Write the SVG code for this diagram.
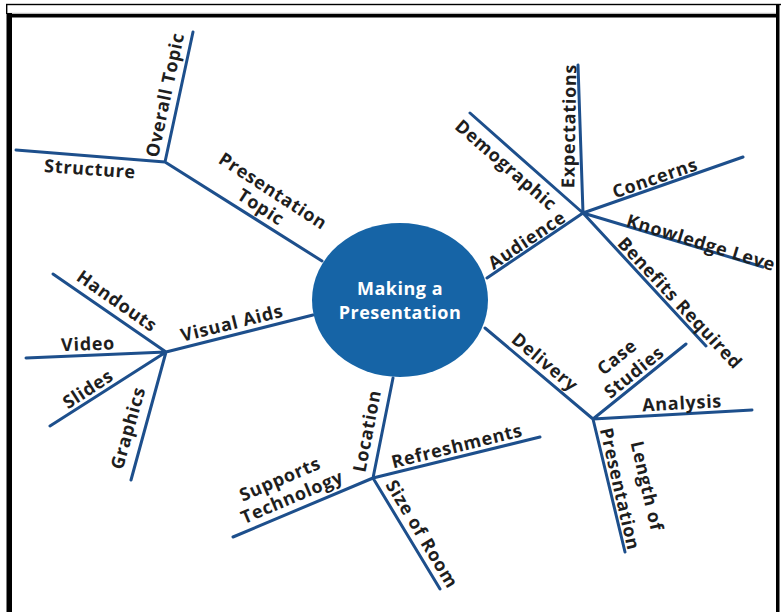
<svg xmlns="http://www.w3.org/2000/svg" width="781" height="612" viewBox="0 0 781 612">
<defs>
<style>
.c{stroke:#1d4f8c;stroke-width:3;fill:none;stroke-linecap:round}
.t{font-family:"Open Sans","Noto Sans","Liberation Sans",sans-serif;font-weight:700;font-size:18px;letter-spacing:0.7px;fill:#1e1e1e;text-anchor:middle}
.m{font-family:"Open Sans","Noto Sans","Liberation Sans",sans-serif;font-weight:700;font-size:18px;letter-spacing:0.5px;fill:#fff;text-anchor:middle}
</style>
<clipPath id="clip"><rect x="0" y="0" width="776" height="612"/></clipPath>
</defs>
<rect width="781" height="612" fill="#fff"/>
<g id="frame">
<rect x="6" y="3.8" width="775" height="1.4" fill="#000"/>
<rect x="6" y="4" width="1.4" height="10" fill="#000"/>
<rect x="7" y="12.8" width="769" height="1.4" fill="#bbb"/>
<rect x="6.5" y="13" width="5.5" height="599" fill="#000"/>
<rect x="12" y="14" width="764" height="3.5" fill="#000"/>
<rect x="776" y="4" width="3.5" height="608" fill="#000"/>
</g>
<g clip-path="url(#clip)">
<g id="connectors">
<path class="c" d="M165 162L322 261M165 162L193 32M165 162L16 150"/>
<path class="c" d="M166 352L313 315M166 352L53 274M166 352L26 358M166 352L50 426M166 352L131 480"/>
<path class="c" d="M373 478L393 378M373 478L233 537M373 478L540 437M373 478L440 589"/>
<path class="c" d="M593 419L485 328M593 419L686 344M593 419L752 410M593 419L625 552"/>
<path class="c" d="M583 213L487 278M583 213L470 113M583 213L578 65M583 213L743 157M583 213L763 267M583 213L706 346"/>
</g>
<g id="center">
<ellipse cx="400" cy="300" rx="88" ry="77" fill="#1664a6"/>
<text class="m" x="400" y="295">Making a</text>
<text class="m" x="400" y="319">Presentation</text>
</g>
<g id="presentation-topic"><text class="t" transform="translate(273,191) rotate(33)" dy="0.35em">Presentation</text><text class="t" transform="translate(261,207) rotate(33)" dy="0.35em">Topic</text></g>
<g id="overall-topic"><text class="t" transform="translate(165,95) rotate(-78)" dy="0.35em">Overall Topic</text></g>
<g id="structure"><text class="t" transform="translate(90,169) rotate(4)" dy="0.35em">Structure</text></g>
<g id="visual-aids"><text class="t" transform="translate(232,323) rotate(-14)" dy="0.35em">Visual Aids</text></g>
<g id="handouts"><text class="t" transform="translate(117,301) rotate(35)" dy="0.35em">Handouts</text></g>
<g id="video"><text class="t" transform="translate(88,344) rotate(-2)" dy="0.35em">Video</text></g>
<g id="slides"><text class="t" transform="translate(88,389) rotate(-33)" dy="0.35em">Slides</text></g>
<g id="graphics"><text class="t" transform="translate(128,428) rotate(-74)" dy="0.35em">Graphics</text></g>
<g id="location"><text class="t" transform="translate(367,431) rotate(-79)" dy="0.35em">Location</text></g>
<g id="refreshments"><text class="t" transform="translate(457,446) rotate(-14)" dy="0.35em">Refreshments</text></g>
<g id="supports-technology"><text class="t" transform="translate(280,479) rotate(-23)" dy="0.35em">Supports</text><text class="t" transform="translate(292,497) rotate(-23)" dy="0.35em">Technology</text></g>
<g id="size-of-room"><text class="t" transform="translate(422,534) rotate(59)" dy="0.35em">Size of Room</text></g>
<g id="delivery"><text class="t" transform="translate(545,362) rotate(40)" dy="0.35em">Delivery</text></g>
<g id="case-studies"><text class="t" transform="translate(617,357) rotate(-39)" dy="0.35em">Case</text><text class="t" transform="translate(634,372) rotate(-39)" dy="0.35em">Studies</text></g>
<g id="analysis"><text class="t" transform="translate(682,403) rotate(-3)" dy="0.35em">Analysis</text></g>
<g id="length-of-presentation"><text class="t" transform="translate(647,486) rotate(77)" dy="0.35em">Length of</text><text class="t" transform="translate(620,489) rotate(77)" dy="0.35em">Presentation</text></g>
<g id="audience"><text class="t" transform="translate(527,240) rotate(-34)" dy="0.35em">Audience</text></g>
<g id="demographic"><text class="t" transform="translate(506,165) rotate(41)" dy="0.35em">Demographic</text></g>
<g id="expectations"><text class="t" transform="translate(569,126) rotate(-89)" dy="0.35em">Expectations</text></g>
<g id="concerns"><text class="t" transform="translate(655,178) rotate(-19)" dy="0.35em">Concerns</text></g>
<g id="knowledge-level"><text class="t" style="text-anchor:start" transform="translate(627,220) rotate(17)" dy="0.35em">Knowledge Leve</text></g>
<g id="benefits-required"><text class="t" transform="translate(680,303) rotate(47)" dy="0.35em">Benefits Required</text></g>
</g>
</svg>
